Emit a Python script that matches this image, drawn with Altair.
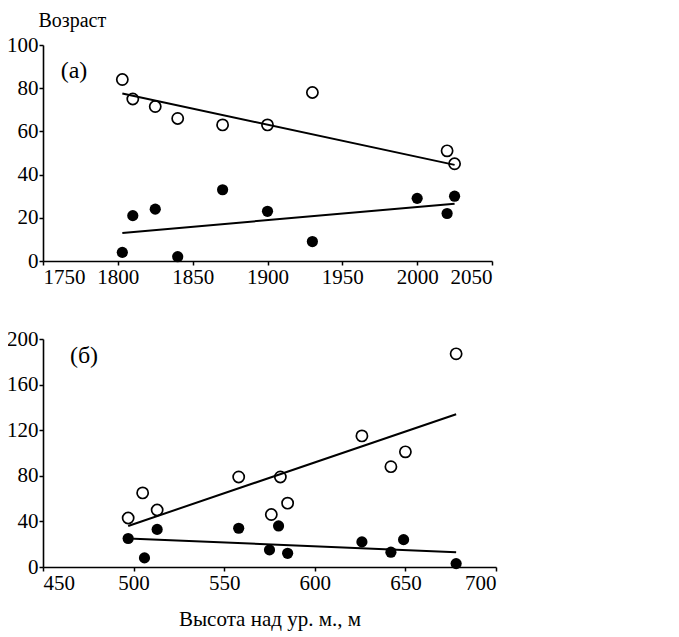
import altair as alt
import pandas as pd

# ---- Panel (a): data ----
a_open_x = [1803, 1810, 1825, 1840, 1870, 1900, 1930, 2020, 2025]
a_open_y = [84, 75, 71.5, 66, 63, 63, 78, 51, 45]
a_fill_x = [1803, 1810, 1825, 1840, 1870, 1900, 1930, 2000, 2020, 2025]
a_fill_y = [4, 21, 24, 2, 33, 23, 9, 29, 22, 30]
a_trend_open_x = [1803, 2025]
a_trend_open_y = [77.5, 44.5]
a_trend_fill_x = [1803, 2025]
a_trend_fill_y = [13, 26.5]

# ---- Panel (б) ----
b_open_x = [497, 505, 513, 558, 576, 581, 585, 626, 642, 650, 678]
b_open_y = [43, 65, 50, 79, 46, 79, 56, 115, 88, 101, 187]
b_fill_x = [497, 506, 513, 558, 575, 580, 585, 626, 642, 649, 678]
b_fill_y = [25, 8, 33, 34, 15, 36, 12, 22, 13, 24, 3]
b_trend_open_x = [497, 678]
b_trend_open_y = [36, 134]
b_trend_fill_x = [497, 678]
b_trend_fill_y = [25, 13]

x_ticks_a = [1750, 1800, 1850, 1900, 1950, 2000, 2050]
y_ticks_a = [0, 20, 40, 60, 80, 100]
x_ticks_b = [450, 500, 550, 600, 650, 700]
y_ticks_b = [0, 40, 80, 120, 160, 200]

FONT = "Liberation Serif"


def df(xs, ys):
    return pd.DataFrame({"x": xs, "y": ys})


def panel(open_x, open_y, fill_x, fill_y, to_x, to_y, tf_x, tf_y,
          xdom, ydom, xt, yt, label, lab_xy, w, h, ytitle=None, xtitle=None):
    xs = alt.Scale(domain=xdom, nice=False, zero=False)
    ys = alt.Scale(domain=ydom, nice=False)
    if xtitle:
        xaxis = alt.Axis(values=xt, format="d", title=xtitle,
                         titleFontWeight="normal", titleFontSize=21, titleFont=FONT,
                         titlePadding=15)
    else:
        xaxis = alt.Axis(values=xt, format="d", title=None)
    if ytitle:
        yaxis = alt.Axis(values=yt, title=ytitle, titleAngle=0, titleAlign="left",
                         titleBaseline="alphabetic", titleX=-5, titleY=-19,
                         titleFontWeight="normal", titleFontSize=20, titleFont=FONT)
    else:
        yaxis = alt.Axis(values=yt, title=None)
    base_x = alt.X("x:Q", scale=xs, axis=xaxis)
    base_y = alt.Y("y:Q", scale=ys, axis=yaxis)

    l1 = alt.Chart(df(to_x, to_y)).mark_line(color="black", strokeWidth=2).encode(x=base_x, y=base_y)
    l2 = alt.Chart(df(tf_x, tf_y)).mark_line(color="black", strokeWidth=2).encode(x=base_x, y=base_y)
    p_open = alt.Chart(df(open_x, open_y)).mark_point(
        shape="circle", filled=False, color="black", strokeWidth=1.7, size=125, opacity=1
    ).encode(x=base_x, y=base_y)
    p_fill = alt.Chart(df(fill_x, fill_y)).mark_point(
        shape="circle", filled=True, color="black", size=125, opacity=1
    ).encode(x=base_x, y=base_y)
    txt = alt.Chart(pd.DataFrame({"t": [label]})).mark_text(
        font=FONT, fontSize=24, color="black", align="center", baseline="middle"
    ).encode(text="t:N", x=alt.value(lab_xy[0]), y=alt.value(lab_xy[1]))
    return alt.layer(l1, l2, p_open, p_fill, txt).properties(width=w, height=h)


top = panel(a_open_x, a_open_y, a_fill_x, a_fill_y,
            a_trend_open_x, a_trend_open_y, a_trend_fill_x, a_trend_fill_y,
            [1750, 2050], [0, 100], x_ticks_a, y_ticks_a, "(а)", (31, 26),
            449, 216, ytitle="Возраст")
bottom = panel(b_open_x, b_open_y, b_fill_x, b_fill_y,
               b_trend_open_x, b_trend_open_y, b_trend_fill_x, b_trend_fill_y,
               [450, 700], [0, 200], x_ticks_b, y_ticks_b, "(б)", (41, 17),
               453, 228, xtitle="Высота над ур. м., м")

chart = alt.vconcat(top, bottom, spacing=41).properties(
    background="white", padding={"left": -2, "top": 2, "right": 5, "bottom": 5}
).configure_view(
    stroke=None
).configure_axis(
    grid=False, domainColor="black", domainWidth=1.6, tickColor="black", tickWidth=1.5,
    tickSize=4, labelFont=FONT, labelFontSize=21, labelColor="black", titleColor="black",
    labelPadding=1
)

chart.save("out.html", embed_options={"renderer": "svg", "actions": False})
